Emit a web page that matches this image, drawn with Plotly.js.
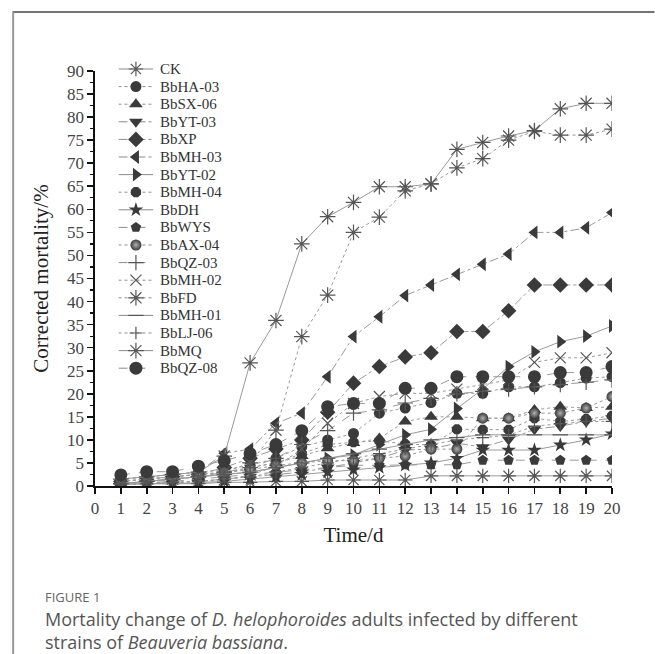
<!DOCTYPE html>
<html>
<head>
<meta charset="utf-8">
<script src="https://cdn.plot.ly/plotly-3.0.1.min.js"></script>
<style>
html,body{margin:0;padding:0;background:#fff;}
#chart{width:655px;height:654px;}
</style>
</head>
<body>
<div id="chart"></div>
<script>
// ---- data (days 1..20) ----
const days = [1,2,3,4,5,6,7,8,9,10,11,12,13,14,15,16,17,18,19,20];
const seriesNames = ["CK","BbHA-03","BbSX-06","BbYT-03","BbXP","BbMH-03","BbYT-02","BbMH-04","BbDH","BbWYS","BbAX-04","BbQZ-03","BbMH-02","BbFD","BbMH-01","BbLJ-06","BbMQ","BbQZ-08"];

const CK      = [0.5,0.5,0.5,0.5,0.8,0.8,1,1,1.3,1.3,1.3,1.3,2.2,2.2,2.2,2.2,2.2,2.2,2.2,2.2];
const BbHA03  = [1.5,2,2.5,3,3.5,4.5,6,8.5,10,11.4,15.8,16.9,18.1,20.1,20.1,21.5,21.5,22.4,23.4,23.7];
const BbSX06  = [0.5,1,1.5,2,2.5,4,5,6.5,8.2,9.3,10.3,14,15,15,14.7,14.7,16.5,17.2,16.9,17.2];
const BbYT03  = [0.3,0.5,0.8,1,1.5,2,2.5,3,4,5,6,7.8,8,9.3,8.4,10.1,12.3,13,14,14.7];
const BbXP    = [1,1.5,2,2.5,4,6,8,10,16,22.3,25.9,28,28.9,33.5,33.5,38,43.6,43.6,43.6,43.6];
const BbMH03  = [1.5,2,2.5,3,7.1,8,13.6,15.8,23.7,32.4,36.7,41.3,43.6,45.9,48.1,50.3,55,55,56,59.3];
const BbYT02  = [0.5,1,1.5,2,2.5,3,4,5,6,6.7,9,11.1,12.3,16.8,21,25.9,29.1,31.3,32.5,34.7];
const BbMH04  = [1,1.5,2,2.5,3,4,5,7,9,9.5,9.8,9.1,8.9,12.3,12.2,12.2,14.7,14,14.5,15.2];
const BbDH    = [0.3,0.5,0.5,0.8,1,1.5,2,2.5,3,3.5,4,4.5,5,6,7.8,7.8,7.8,8.9,10,11.3];
const BbWYS   = [0.5,0.8,1,1.5,2,2.5,3,3.5,4,4.5,4.5,4.6,4.6,4.6,5.6,5.6,5.6,5.6,5.6,5.6];
const BbAX04  = [1,1.5,2,2.5,3,3.5,4.5,5,5.5,5.5,6,6.5,8,8,14.7,14.7,15.8,15.8,16.9,19.4];
const BbQZ03  = [0.5,1,1.5,2,3,4,6,9,12,15.8,16.5,18,19,20,20.5,21,21.5,22,22.5,23];
const BbMH02  = [0.3,0.5,0.8,1,1.3,2.4,4.2,8,13.6,17.9,19.4,20.1,20.1,21,22,23,26.8,27.8,27.8,28.9];
const BbFD    = [0.5,1,1.5,2,3,5,12.1,32.4,41.4,55,58.3,64,65.5,69,71,75,76.9,76.1,76.1,77.4];
const BbMH01  = [0.5,1,1.5,2,2.5,3,4,5,6,7,8,9,10,10.5,11.1,11.1,11.1,11.1,11.1,11.1];
const BbLJ06  = [0.3,0.5,0.8,1,1.5,2,3,4,5,6,7,8,9,10,10.5,11,13,13.5,14,14];
const BbMQ    = [1.5,2,2.5,3,6.5,26.7,35.9,52.5,58.4,61.5,64.9,64.9,65.5,73,74.5,75.9,77.1,81.8,83,83];
const BbQZ08  = [2.4,3.1,3.1,4.3,5.5,7,9,12,17.2,17.9,17.9,21.2,21.2,23.7,23.7,23.7,23.7,24.6,24.6,25.9];

const xTickVals = [0,1,2,3,4,5,6,7,8,9,10,11,12,13,14,15,16,17,18,19,20];
const yTickVals = [0,5,10,15,20,25,30,35,40,45,50,55,60,65,70,75,80,85,90];

// ---- styles ----
const allValues = [CK,BbHA03,BbSX06,BbYT03,BbXP,BbMH03,BbYT02,BbMH04,BbDH,BbWYS,BbAX04,BbQZ03,BbMH02,BbFD,BbMH01,BbLJ06,BbMQ,BbQZ08];
const styles = [
  {sym:"asterisk-open", size:12, dash:"solid"},
  {sym:"circle", size:11, dash:"dot"},
  {sym:"triangle-up", size:12, dash:"dot"},
  {sym:"triangle-down", size:12, dash:"dashdot"},
  {sym:"diamond", size:12, dash:"dashdot"},
  {sym:"triangle-left", size:12, dash:"dashdot"},
  {sym:"triangle-right", size:12, dash:"solid"},
  {sym:"octagon", size:11, dash:"dot"},
  {sym:"star", size:11, dash:"solid"},
  {sym:"pentagon", size:11, dash:"dash"},
  {sym:"circle", size:11, dash:"dot", grad:true},
  {sym:"cross-thin-open", size:11, dash:"dash"},
  {sym:"x-thin-open", size:11, dash:"dot"},
  {sym:"asterisk-open", size:13, dash:"dot"},
  {sym:"line-ew-open", size:11, dash:"solid"},
  {sym:"cross-thin-open", size:9, dash:"dot"},
  {sym:"asterisk-open", size:13, dash:"solid"},
  {sym:"circle", size:13, dash:"dash"}
];

function markerOf(s){
  const open = s.sym.indexOf("open")>=0;
  const m = {symbol:s.sym, size:s.size, color: open ? "#555" : "#3a3a3a",
             line:{color: open ? "#555" : "#3a3a3a", width: open ? 1.2 : 0}};
  if (s.grad) m.gradient = {type:"radial", color:"#b0b0b0"};
  return m;
}

const traces = seriesNames.map((name,i)=>{
  const s = styles[i];
  return {
    x: days, y: allValues[i], name: name, type:"scatter", mode:"lines+markers",
    line:{color:"#9a9a9a", width:1, dash:s.dash},
    marker: markerOf(s), showlegend:false, xaxis:"x", yaxis:"y"
  };
});

// ---- custom legend on hidden axes (row = series index) ----
const legendIdx = seriesNames.map((n,i)=>i);
seriesNames.forEach((name,i)=>{
  const s = styles[i];
  traces.push({x:[0,1], y:[legendIdx[i],legendIdx[i]], type:"scatter", mode:"lines",
    line:{color:"#8a8a8a", width:1, dash:s.dash}, showlegend:false, hoverinfo:"skip",
    xaxis:"x2", yaxis:"y2", cliponaxis:false});
  traces.push({x:[0.5], y:[legendIdx[i]], type:"scatter", mode:"markers",
    marker: markerOf(s), showlegend:false, hoverinfo:"skip",
    xaxis:"x2", yaxis:"y2", cliponaxis:false});
});

// ---- layout geometry helpers (paper coords) ----
const L = 94.5, R = 42.5, T = 50, B = 168, W = 655, H = 654;
const axisTop = 71;                       // pixel row of y = 90
const pw = W - L - R, ph = H - T - B;
const px = v => (v - L)/pw;
const py = v => (H - B - v)/ph;

const rowTop = 69, rowStep = 17.6, legBottom = 378;
const serif = "Liberation Serif, Times New Roman, serif";
const sans = "Open Sans, Noto Sans, sans-serif";

const legendAnn = seriesNames.map((name,i)=>({
  xref:"x2", yref:"y2", x:1, y:legendIdx[i], xanchor:"left", yanchor:"middle", xshift:5,
  text:name, showarrow:false, font:{family:serif, size:15, color:"#333"}
}));

const layout = {
  width: W, height: H,
  margin:{l:L, r:R, t:T, b:B, pad:0},
  paper_bgcolor:"#fff", plot_bgcolor:"#fff",
  showlegend:false,
  xaxis:{range:[0,20], tickvals:xTickVals, ticktext:xTickVals.map(String),
         showgrid:false, zeroline:false, showline:true, linecolor:"#111", linewidth:1.6,
         ticks:"outside", ticklen:6, tickwidth:1.6, tickcolor:"#111",
         tickfont:{family:serif, size:17, color:"#444"},
         title:{text:"Time/d", font:{family:serif, size:21, color:"#222"}, standoff:10},
         automargin:false, fixedrange:true},
  yaxis:{range:[0,90], domain:[0, py(axisTop)], tickvals:yTickVals, ticktext:yTickVals.map(String),
         showgrid:false, zeroline:false, showline:true, linecolor:"#111", linewidth:1.6,
         ticks:"outside", ticklen:6, tickwidth:1.6, tickcolor:"#111",
         minor:{dtick:2.5, ticks:"outside", ticklen:3, tickwidth:1.2, tickcolor:"#111", showgrid:false},
         tickfont:{family:serif, size:17, color:"#444"},
         title:{text:"Corrected mortality/%", font:{family:serif, size:21, color:"#222"}, standoff:12},
         automargin:false, fixedrange:true},
  xaxis2:{domain:[px(118), px(153)], range:[0,1], visible:false, anchor:"y2", fixedrange:true},
  yaxis2:{domain:[py(legBottom), 1], range:[(legBottom-rowTop)/rowStep, (T-rowTop)/rowStep],
          visible:false, anchor:"x2", fixedrange:true},
  shapes:[
    {type:"line", xref:"paper", yref:"paper", x0:px(12), x1:px(655), y0:py(12), y1:py(12),
     line:{color:"#444", width:1.5}},
    {type:"line", xref:"paper", yref:"paper", x0:px(12.5), x1:px(12.5), y0:py(12), y1:py(654),
     line:{color:"#999", width:2}}
  ],
  annotations: legendAnn.concat([
    {xref:"paper", yref:"paper", x:px(42), y:py(597), xanchor:"left", yanchor:"middle",
     text:"FIGURE 1", showarrow:false, font:{family:sans, size:13, color:"#666"}},
    {xref:"paper", yref:"paper", x:px(42), y:py(630), xanchor:"left", yanchor:"middle", align:"left",
     text:"Mortality change of <i>D. helophoroides</i> adults infected by different<br>strains of <i>Beauveria bassiana</i>.",
     showarrow:false, font:{family:sans, size:18, color:"#555"}}
  ])
};

Plotly.newPlot("chart", traces, layout, {staticPlot:true, displayModeBar:false});
</script>
</body>
</html>
